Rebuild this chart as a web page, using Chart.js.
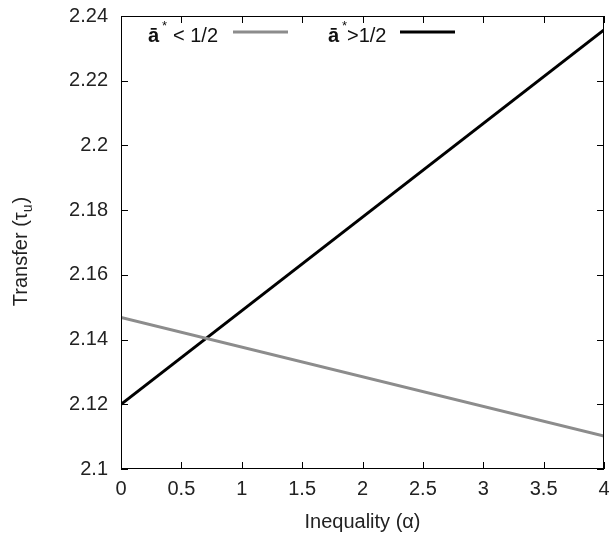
<!DOCTYPE html>
<html>
<head>
<meta charset="utf-8">
<script src="https://cdn.jsdelivr.net/npm/chart.js@4.4.0/dist/chart.umd.min.js"></script>
<style>
  html, body { margin: 0; padding: 0; background: #fff; }
  #wrap { width: 610px; height: 536px; }
</style>
</head>
<body>
<div id="wrap"><canvas id="c" width="610" height="536"></canvas></div>
<script>
// values (line endpoints)
const alphaX = [0, 4];
const transferLow = [2.1468, 2.1102];   // a* < 1/2 (gray)
const transferHigh = [2.1200, 2.2357];  // a* > 1/2 (black)
const xTicks = [0, 0.5, 1, 1.5, 2, 2.5, 3, 3.5, 4];
const yTicks = [2.1, 2.12, 2.14, 2.16, 2.18, 2.2, 2.22, 2.24];

const FONT = '"Liberation Sans", Arial, sans-serif';
const FS = 20;

function pts(xs, ys) {
  return xs.map((x, i) => ({ x: x, y: ys[i] }));
}

// box, inward ticks, axis titles and legend, gnuplot style
const gnuplotBits = {
  id: 'gnuplotBits',
  afterDraw(chart) {
    const c = chart.ctx;
    const a = chart.chartArea;
    const xs = chart.scales.x;
    const ys = chart.scales.y;
    c.save();
    c.strokeStyle = '#000';
    c.lineWidth = 1;
    c.strokeRect(a.left + 0.5, a.top + 0.5, a.right - a.left - 1, a.bottom - a.top - 1);
    const tl = 7;
    c.beginPath();
    xTicks.forEach(v => {
      const px = Math.round(xs.getPixelForValue(v)) + 0.5;
      c.moveTo(px, a.bottom); c.lineTo(px, a.bottom - tl);
      c.moveTo(px, a.top); c.lineTo(px, a.top + tl);
    });
    yTicks.forEach(v => {
      const py = Math.round(ys.getPixelForValue(v)) + 0.5;
      c.moveTo(a.left, py); c.lineTo(a.left + tl, py);
      c.moveTo(a.right, py); c.lineTo(a.right - tl, py);
    });
    c.stroke();

    // x title
    c.fillStyle = '#222';
    c.font = FS + 'px ' + FONT;
    c.textAlign = 'center';
    c.textBaseline = 'alphabetic';
    c.fillText('Inequality (\u03b1)', (a.left + a.right) / 2, 528);

    // y title with subscript
    c.save();
    c.translate(27, 252);
    c.rotate(-Math.PI / 2);
    c.textAlign = 'left';
    const main = 'Transfer (\u03c4';
    const wMain = c.measureText(main).width;
    c.font = '14px ' + FONT;
    const wSub = c.measureText('u').width;
    c.font = FS + 'px ' + FONT;
    const wEnd = c.measureText(')').width;
    const x0 = -(wMain + wSub + wEnd) / 2;
    c.fillText(main, x0, 0);
    c.font = '14px ' + FONT;
    c.fillText('u', x0 + wMain, 5);
    c.font = FS + 'px ' + FONT;
    c.fillText(')', x0 + wMain + wSub + 1, 0);
    c.restore();

    // legend
    const ly = 32, base = 42;
    function abar(x) {
      c.font = 'bold ' + FS + 'px ' + FONT;
      c.textAlign = 'left';
      c.fillText('\u0101', x, base);
      const w = c.measureText('\u0101').width;
      c.font = '13px ' + FONT;
      c.fillText('*', x + w + 3, base - 12);
    }
    c.fillStyle = '#111';
    abar(148);
    c.font = FS + 'px ' + FONT;
    c.fillText('< 1/2', 173, base);
    c.strokeStyle = '#8c8c8c';
    c.lineWidth = 3;
    c.beginPath(); c.moveTo(233, ly); c.lineTo(288, ly); c.stroke();

    abar(328);
    c.font = FS + 'px ' + FONT;
    c.fillText('>1/2', 347, base);
    c.strokeStyle = '#000';
    c.beginPath(); c.moveTo(400, ly); c.lineTo(455, ly); c.stroke();
    c.restore();
  }
};

new Chart(document.getElementById('c'), {
  type: 'scatter',
  data: {
    datasets: [
      {
        label: 'a* < 1/2',
        data: pts(alphaX, transferLow),
        showLine: true,
        borderColor: '#8c8c8c',
        borderWidth: 3,
        pointRadius: 0,
        tension: 0
      },
      {
        label: 'a* > 1/2',
        data: pts(alphaX, transferHigh),
        showLine: true,
        borderColor: '#000',
        borderWidth: 3,
        pointRadius: 0,
        tension: 0
      }
    ]
  },
  options: {
    responsive: false,
    animation: false,
    layout: { padding: { top: 16, right: 6, left: 0, bottom: 0 } },
    plugins: { legend: { display: false }, tooltip: { enabled: false } },
    scales: {
      x: {
        type: 'linear',
        min: 0, max: 4,
        afterFit: s => { s.height = 67; s.paddingLeft = 0; s.paddingRight = 0; },
        afterBuildTicks: s => { s.ticks = xTicks.map(v => ({ value: v })); },
        grid: { display: false, drawTicks: false },
        border: { display: false },
        ticks: {
          color: '#222',
          font: { family: FONT, size: FS },
          padding: 8,
          maxRotation: 0,
          callback: v => String(v)
        }
      },
      y: {
        type: 'linear',
        min: 2.1, max: 2.24,
        afterFit: s => { s.width = 121; s.paddingTop = 0; s.paddingBottom = 0; },
        afterBuildTicks: s => { s.ticks = yTicks.map(v => ({ value: v })); },
        grid: { display: false, drawTicks: false },
        border: { display: false },
        ticks: {
          color: '#222',
          font: { family: FONT, size: FS },
          padding: 13,
          callback: v => String(Number(v.toFixed(2)))
        }
      }
    }
  },
  plugins: [gnuplotBits]
});
</script>
</body>
</html>
